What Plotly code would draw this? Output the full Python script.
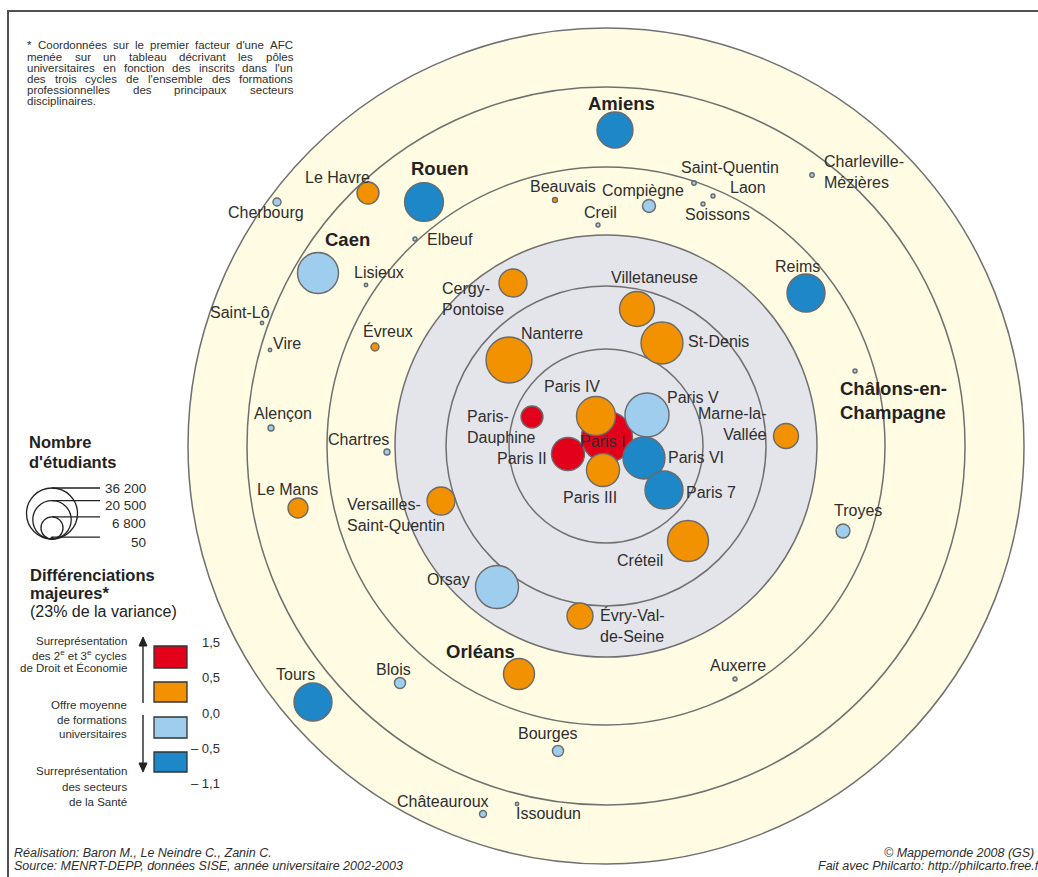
import math
import plotly.graph_objects as go

# ---------------- data ----------------
# map coordinates (units = screen px, origin at centre of the rings, y up)
names = ["Amiens", "Rouen", "Le Havre", "Cherbourg", "Caen", "Elbeuf", "Lisieux",
         "Saint-Lô", "Vire", "Évreux", "Alençon", "Chartres", "Le Mans",
         "Versailles-Saint-Quentin", "Cergy-Pontoise", "Nanterre", "Villetaneuse",
         "St-Denis", "Beauvais", "Creil", "Compiègne", "Saint-Quentin", "Laon",
         "Soissons", "Charleville-Mézières", "Reims", "Châlons-en-Champagne",
         "Marne-la-Vallée", "Troyes", "Paris IV", "Paris V", "Paris-Dauphine",
         "Paris I", "Paris II", "Paris III", "Paris VI", "Paris 7", "Créteil",
         "Orsay", "Évry-Val-de-Seine", "Orléans", "Blois", "Tours", "Auxerre",
         "Bourges", "Châteauroux", "Issoudun"]
map_x = [9, -182, -238, -329, -288, -191, -240, -344, -336, -231, -335, -219, -308,
         -165, -93, -97, 31, 56, -51, -8, 43, 88, 107, 97, 206, 200, 249, 180, 237,
         -10, 41, -74, 1, -38, -3, 38, 58, 82, -109, -26, -87, -206, -293, 129,
         -48, -123, -89]
map_y = [316, 244, 253, 244, 173, 207, 161, 123, 96, 99, 18, -6, -62, -55, 163, 86,
         137, 103, 246, 221, 240, 263, 250, 242, 271, 153, 75, 10, -85, 30, 31, 29,
         9, -8, -24, -12, -44, -95, -141, -170, -228, -237, -256, -233, -305, -368,
         -358]
students = [18000, 21000, 6700, 900, 23400, 220, 170, 170, 170, 890, 500, 500, 5570,
            10900, 10900, 29400, 17000, 24500, 350, 220, 2350, 280, 220, 220, 280,
            20100, 220, 8700, 2700, 21200, 27000, 6700, 36200, 15200, 15200, 24500,
            20100, 23400, 25700, 9400, 13400, 1700, 20100, 220, 1700, 680, 125]
score = [-0.8, -0.8, 0.3, -0.2, -0.3, -0.2, -0.2, -0.2, -0.2, 0.2, -0.2, -0.2, 0.2,
         0.3, 0.3, 0.3, 0.3, 0.3, 0.2, -0.2, -0.3, -0.2, -0.2, -0.2, -0.2, -0.8, -0.2,
         0.2, -0.2, 0.3, -0.3, 0.8, 1.2, 1.0, 0.3, -0.8, -0.8, 0.3, -0.3, 0.2, 0.3,
         -0.2, -0.8, -0.2, -0.2, -0.2, -0.2]

class_breaks = [1.5, 0.5, 0.0, -0.5, -1.1]
class_labels = ["1,5", "0,5", "0,0", "– 0,5", "– 1,1"]
class_colors = ["#e2001a", "#f39200", "#9fcdee", "#1d87c8"]
size_legend = [36200, 20500, 6800, 50]
size_legend_labels = ["36 200", "20 500", "6 800", "50"]
ring_radii = [418, 359, 279, 211, 160, 97]

# ---------------- helpers ----------------
CX, CY = 606, 446
def X(px):
    return px - CX
def Y(py):
    return CY - py

MAXD = 51.0
def diam(n):
    return MAXD * math.sqrt(n / 36200.0)

def colour(v):
    for k in range(4):
        if v <= class_breaks[k] and v > class_breaks[k + 1]:
            return class_colors[k]
    return class_colors[-1]

# Arial / Liberation Sans advance widths (per 1000 em)
AW = {' ': 278, '*': 389, "'": 191, '.': 278, 'A': 667, 'C': 722, 'F': 611,
      'a': 556, 'b': 556, 'c': 500, 'd': 556, 'e': 556, 'f': 278, 'g': 556, 'h': 556,
      'i': 222, 'j': 222, 'k': 500, 'l': 222, 'm': 833, 'n': 556, 'o': 556, 'p': 556,
      'q': 556, 'r': 333, 's': 500, 't': 278, 'u': 556, 'v': 500, 'w': 722, 'x': 500,
      'y': 500, 'z': 500, 'é': 556, 'è': 556, 'ô': 556}
def twidth(s, size):
    return sum(AW.get(ch, 556) for ch in s) * size / 1000.0

FONT = "Liberation Sans, Arial, sans-serif"
TXT = "#2e2e2e"

fig = go.Figure()
shapes = []
annotations = []

# frame
shapes.append(dict(type="rect", xref="x", yref="y", x0=X(8), x1=X(1070), y0=Y(11), y1=Y(900),
                   line=dict(color="#505050", width=2), fillcolor="rgba(0,0,0,0)", layer="below"))

# rings
fills = {418: "#fffce3", 211: "#e4e5ea"}
for r in ring_radii:
    shapes.append(dict(type="circle", xref="x", yref="y", x0=-r, x1=r, y0=-r, y1=r,
                       line=dict(color="#707070", width=1.5),
                       fillcolor=fills.get(r, "rgba(0,0,0,0)"), layer="below"))

# bubbles (largest first)
order = sorted(range(len(names)), key=lambda i: -students[i])
fig.add_trace(go.Scatter(
    x=[map_x[i] for i in order], y=[map_y[i] for i in order], mode="markers",
    marker=dict(size=[max(diam(students[i]), 3.5) for i in order],
                color=[colour(score[i]) for i in order],
                line=dict(color="#6a6a6a", width=1.4), opacity=1),
    text=[names[i] for i in order], hoverinfo="text", showlegend=False))

# ---------------- city labels ----------------
labels = [
    ("Amiens", 621, 103, "center", True), ("Rouen", 440, 168, "center", True),
    ("Le Havre", 337, 177, "center", False), ("Cherbourg", 266, 212, "center", False),
    ("Caen", 347, 239, "center", True), ("Elbeuf", 450, 239, "center", False),
    ("Lisieux", 379, 272, "center", False), ("Saint-Lô", 240, 312, "center", False),
    ("Vire", 287, 343, "center", False), ("Évreux", 388, 331, "center", False),
    ("Alençon", 283, 413, "center", False), ("Chartres", 358, 439, "center", False),
    ("Le Mans", 287, 489, "center", False),
    ("Versailles-<br>Saint-Quentin", 345, 515, "left", False),
    ("Cergy-<br>Pontoise", 440, 299, "left", False),
    ("Nanterre", 552, 333, "center", False), ("Villetaneuse", 654, 277, "center", False),
    ("St-Denis", 718, 341, "center", False), ("Beauvais", 563, 186, "center", False),
    ("Creil", 600, 212, "center", False), ("Compiègne", 643, 190, "center", False),
    ("Saint-Quentin", 730, 167, "center", False), ("Laon", 748, 187, "center", False),
    ("Soissons", 717, 214, "center", False),
    ("Charleville-<br>Mézières", 822, 172, "left", False),
    ("Reims", 797, 266, "center", False),
    ("Châlons-en-<br>Champagne", 838, 400, "left", True),
    ("Marne-la-<br>Vallée", 769, 424, "right", False),
    ("Troyes", 858, 510, "center", False), ("Paris IV", 572, 386, "center", False),
    ("Paris V", 693, 397, "center", False),
    ("Paris-<br>Dauphine", 465, 427, "left", False),
    ("Paris I", 602, 441, "center", False), ("Paris II", 522, 458, "center", False),
    ("Paris III", 590, 497, "center", False), ("Paris VI", 696, 457, "center", False),
    ("Paris 7", 711, 492, "center", False), ("Créteil", 640, 560, "center", False),
    ("Orsay", 448, 579, "center", False),
    ("Évry-Val-<br>de-Seine", 598, 625, "left", False),
    ("Orléans", 480, 651, "center", True), ("Blois", 393, 669, "center", False),
    ("Tours", 295, 674, "center", False), ("Auxerre", 738, 665, "center", False),
    ("Bourges", 548, 733, "center", False), ("Châteauroux", 443, 801, "center", False),
    ("Issoudun", 548, 813, "center", False),
]
for t, px, py, anc, bold in labels:
    annotations.append(dict(
        x=X(px), y=Y(py), xref="x", yref="y", text=("<b>%s</b>" % t) if bold else t,
        showarrow=False, xanchor=anc, yanchor="middle", align=anc,
        font=dict(family=FONT, size=18.5 if bold else 16, color="#222222" if bold else TXT)))

# ---------------- note (justified) ----------------
note = ["* Coordonnées sur le premier facteur d'une AFC",
        "menée sur un tableau décrivant les pôles",
        "universitaires en fonction des inscrits dans l'un",
        "des trois cycles de l'ensemble des formations",
        "professionnelles des principaux secteurs",
        "disciplinaires."]
note_y = [45, 57, 68, 79, 90, 101]
NOTE_SIZE, NOTE_X0, NOTE_W = 11.5, 25, 266
for k, (line, py) in enumerate(zip(note, note_y)):
    words = line.split(" ")
    if k == len(note) - 1 or len(words) == 1:
        annotations.append(dict(x=X(NOTE_X0), y=Y(py), xref="x", yref="y", text=line,
                                showarrow=False, xanchor="left", yanchor="middle",
                                font=dict(family=FONT, size=NOTE_SIZE, color=TXT)))
        continue
    ws = [twidth(w, NOTE_SIZE) for w in words]
    gap = (NOTE_W - sum(ws)) / (len(words) - 1)
    xpos = NOTE_X0
    for w, wd in zip(words, ws):
        annotations.append(dict(x=X(xpos), y=Y(py), xref="x", yref="y", text=w,
                                showarrow=False, xanchor="left", yanchor="middle",
                                font=dict(family=FONT, size=NOTE_SIZE, color=TXT)))
        xpos += wd + gap

# ---------------- size legend ----------------
annotations.append(dict(x=X(27), y=Y(442), xref="x", yref="y", text="<b>Nombre</b>", showarrow=False,
                        xanchor="left", font=dict(family=FONT, size=16.5, color="#222")))
annotations.append(dict(x=X(27), y=Y(462), xref="x", yref="y", text="<b>d'étudiants</b>", showarrow=False,
                        xanchor="left", font=dict(family=FONT, size=16.5, color="#222")))
LCX, LBOT = 52, 539
size_label_y = [488, 505, 523, 542]
for v, lab, ly in zip(size_legend, size_legend_labels, size_label_y):
    d = diam(v)
    shapes.append(dict(type="circle", xref="x", yref="y", x0=X(LCX - d / 2), x1=X(LCX + d / 2),
                       y0=Y(LBOT), y1=Y(LBOT - d), line=dict(color="#222", width=1.3),
                       fillcolor="rgba(0,0,0,0)"))
    shapes.append(dict(type="line", xref="x", yref="y", x0=X(LCX), x1=X(100),
                       y0=Y(LBOT - d), y1=Y(LBOT - d), line=dict(color="#222", width=1.3)))
    annotations.append(dict(x=X(148), y=Y(ly), xref="x", yref="y", text=lab,
                            showarrow=False, xanchor="right",
                            font=dict(family=FONT, size=13.5, color=TXT)))

# ---------------- colour legend ----------------
for t, py, sz in [("<b>Différenciations</b>", 575, 16.5), ("<b>majeures*</b>", 593, 16.5),
                  ("(23% de la variance)", 611, 16)]:
    annotations.append(dict(x=X(28), y=Y(py), xref="x", yref="y", text=t, showarrow=False,
                            xanchor="left", font=dict(family=FONT, size=sz, color="#222")))
box_top = [646, 682, 717, 752]
box_bot = [668, 702, 738, 772]
for c, t0, t1 in zip(class_colors, box_top, box_bot):
    shapes.append(dict(type="rect", xref="x", yref="y", x0=X(154), x1=X(187), y0=Y(t1), y1=Y(t0),
                       fillcolor=c, line=dict(color="#333", width=1.3)))
val_y = [642, 677, 713, 748, 783]
for lab, py in zip(class_labels, val_y):
    annotations.append(dict(x=X(222), y=Y(py), xref="x", yref="y", text=lab, showarrow=False,
                            xanchor="right", font=dict(family=FONT, size=13, color=TXT)))
side = [("Surreprésentation", 641), ("des 2<sup>e</sup> et 3<sup>e</sup> cycles", 655),
        ("de Droit et Économie", 668), ("Offre moyenne", 705), ("de formations", 720),
        ("universitaires", 734), ("Surreprésentation", 771), ("des secteurs", 787),
        ("de la Santé", 802)]
for t, py in side:
    annotations.append(dict(x=X(129), y=Y(py), xref="x", yref="y", text=t, showarrow=False,
                            xanchor="right", font=dict(family=FONT, size=11.5, color=TXT)))
# arrows as shapes
AX = 143
shapes.append(dict(type="line", xref="x", yref="y", x0=X(AX), x1=X(AX), y0=Y(703), y1=Y(644),
                   line=dict(color="#222", width=1.4)))
shapes.append(dict(type="path", xref="x", yref="y",
                   path="M %g,%g L %g,%g L %g,%g Z" % (X(AX), Y(637), X(AX - 4), Y(646), X(AX + 4), Y(646)),
                   fillcolor="#222", line=dict(color="#222", width=1)))
shapes.append(dict(type="line", xref="x", yref="y", x0=X(AX), x1=X(AX), y0=Y(715), y1=Y(765),
                   line=dict(color="#222", width=1.4)))
shapes.append(dict(type="path", xref="x", yref="y",
                   path="M %g,%g L %g,%g L %g,%g Z" % (X(AX), Y(772), X(AX - 4), Y(763), X(AX + 4), Y(763)),
                   fillcolor="#222", line=dict(color="#222", width=1)))

# ---------------- footer ----------------
foot = [("Réalisation: Baron M., Le Neindre C., Zanin C.", 12, 853, "left"),
        ("Source: MENRT-DEPP, données SISE, année universitaire 2002-2003", 12, 866, "left"),
        ("© Mappemonde 2008 (GS)", 1036, 853, "right"),
        ("Fait avec Philcarto: http://philcarto.free.fr", 816, 866, "left")]
for t, px, py, anc in foot:
    annotations.append(dict(x=X(px), y=Y(py), xref="x", yref="y", text="<i>%s</i>" % t,
                            showarrow=False, xanchor=anc,
                            font=dict(family=FONT, size=12.5, color=TXT)))

fig.update_layout(
    width=1038, height=877, autosize=False,
    margin=dict(l=0, r=0, t=0, b=0, pad=0),
    paper_bgcolor="white", plot_bgcolor="white",
    xaxis=dict(range=[X(0), X(1038)], visible=False, fixedrange=True),
    yaxis=dict(range=[Y(877), Y(0)], visible=False, fixedrange=True),
    shapes=shapes, annotations=annotations, showlegend=False)

fig.write_html("out.html", config={"displayModeBar": False},
               post_script="document.body.style.margin='0px';document.body.style.padding='0px';")
